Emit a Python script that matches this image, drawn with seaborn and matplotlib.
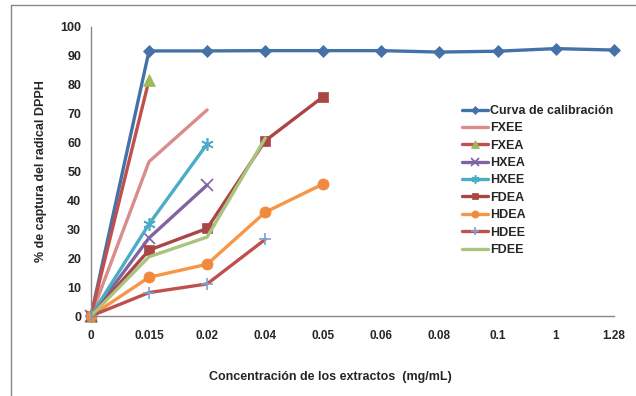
import matplotlib.pyplot as plt
import matplotlib.lines as mlines
import seaborn as sns

# x categories (plotted at equal spacing, like the original chart)
concentrations = ["0", "0.015", "0.02", "0.04", "0.05", "0.06", "0.08", "0.1", "1", "1.28"]

# % captura del radical DPPH for each series
calibracion = [0, 91.7, 91.7, 91.8, 91.8, 91.8, 91.3, 91.6, 92.5, 92.0]
fxee = [0, 53.4, 71.3]
fxea = [0, 81.7]
hxea = [0, 27.0, 45.3]
hxee = [0, 31.8, 59.5]
fdea = [0, 22.8, 30.3, 60.6, 75.9]
hdea = [0, 13.4, 17.9, 35.9, 45.7]
hdee = [0, 8.1, 11.1, 26.5]
fdee = [0, 20.5, 27.3, 61.5]

series = [
    ("Curva de calibración", calibracion, "#4472A8", "D", "#4472A8", 6),
    ("FXEE", fxee, "#D98C8A", None, None, 0),
    ("FXEA", fxea, "#C0504D", "^", "#9BBB59", 8),
    ("HXEA", hxea, "#8064A2", "x", "#8064A2", 8),
    ("HXEE", hxee, "#4BACC6", (6, 2, 0), "#4BACC6", 9),
    ("FDEA", fdea, "#AA4643", "s", "#AA4643", 7),
    ("HDEA", hdea, "#F79646", "o", "#F08A3E", 8),
    ("HDEE", hdee, "#C0504D", "+", "#7F9FD3", 9),
    ("FDEE", fdee, "#A9C47F", None, None, 0),
]

sns.set_style("white")
plt.rcParams['font.family'] = ['Liberation Sans', 'DejaVu Sans']

fig = plt.figure(figsize=(6.36, 3.96), dpi=100)
ax = fig.add_axes([0.143, 0.202, 0.822, 0.730])

for name, vals, color, marker, mcolor, msize in series:
    xs = list(range(len(vals)))
    sns.lineplot(x=xs, y=vals, ax=ax, color=color, linewidth=2.4,
                 marker=marker, markersize=msize,
                 markerfacecolor=mcolor, markeredgecolor=mcolor,
                 markeredgewidth=1.2 if marker in ("x", "+", (6, 2, 0)) else 0.5,
                 label=name)

ax.set_xlim(0, len(concentrations) - 1)
ax.set_ylim(0, 100)
ax.set_xticks(range(len(concentrations)))
ax.set_xticklabels(concentrations, fontsize=8.5, fontweight='bold')
ax.set_yticks(range(0, 101, 10))
ax.set_yticklabels([str(v) for v in range(0, 101, 10)], fontsize=9, fontweight='bold')
ax.tick_params(axis='both', direction='out', length=4, width=0.8, color='#888888', pad=3)
ax.tick_params(axis='x', pad=6)

for side in ("top", "right"):
    ax.spines[side].set_visible(False)
for side in ("left", "bottom"):
    ax.spines[side].set_color('#888888')
    ax.spines[side].set_linewidth(1.0)

ax.set_xlabel("")
ax.set_ylabel("% de captura del radical DPPH", fontsize=9, fontweight='bold')
ax.yaxis.set_label_coords((47 - 91) / 523, 0.5)
fig.text(330 / 636, 1 - 377 / 396, "Concentración de los extractos  (mg/mL)",
         fontsize=9, fontweight='bold', ha='center', va='center')

for line in ax.lines:
    line.set_clip_on(False)

leg = ax.legend(loc='upper left', bbox_to_anchor=((462 - 91) / 523, (316 - 105) / 289),
                frameon=False, prop={'weight': 'bold', 'size': 9}, markerscale=0.65,
                handlelength=2.1, handletextpad=0.15, labelspacing=0.43,
                borderpad=0, borderaxespad=0)

# chart area border (only top and left visible inside the image)
fig.add_artist(mlines.Line2D([11 / 636, 1], [1 - 5 / 396, 1 - 5 / 396], color='#888888', lw=1.0))
fig.add_artist(mlines.Line2D([11 / 636, 11 / 636], [0, 1 - 5 / 396], color='#888888', lw=1.0))

fig.savefig("out.png", dpi=100)
